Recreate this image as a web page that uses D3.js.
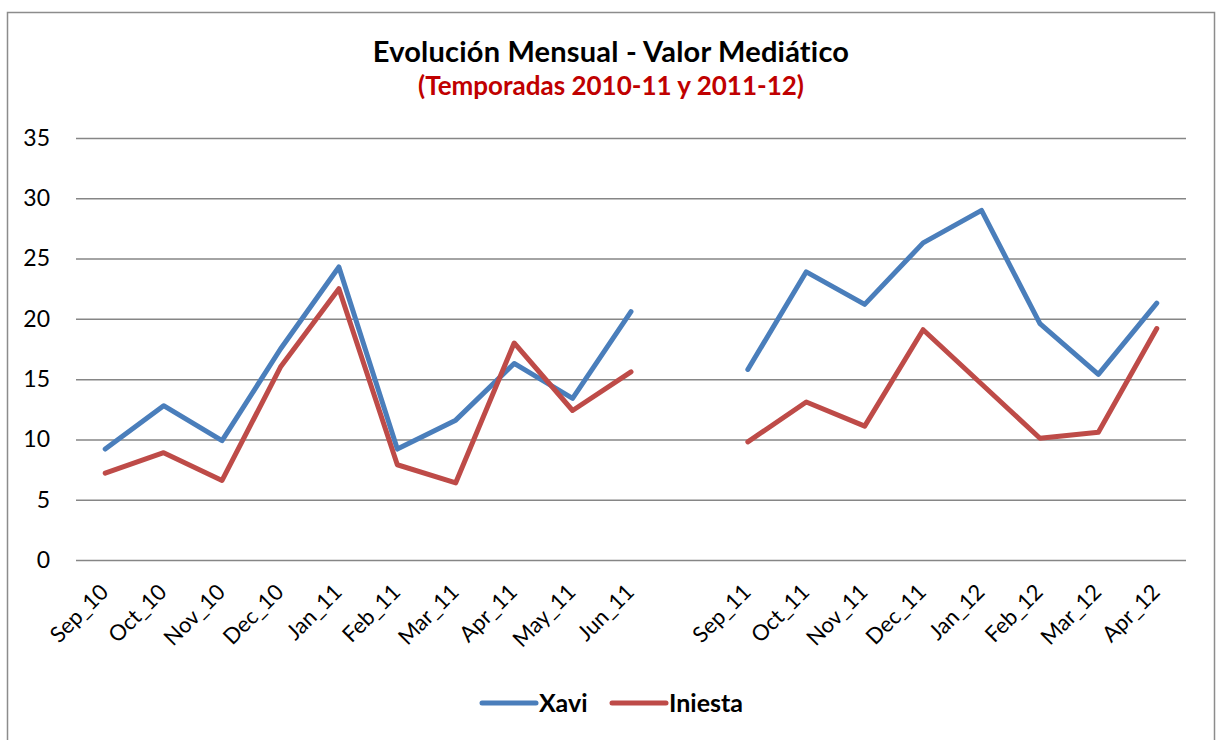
<!DOCTYPE html>
<html>
<head>
<meta charset="utf-8">
<script src="https://cdn.jsdelivr.net/npm/d3@7"></script>
<style>
  body { margin: 0; background: #fff; }
  svg { display: block; font-family: Lato, "Open Sans", sans-serif; }
</style>
</head>
<body>
<div id="chart"></div>
<script>
// months on the x axis, one empty slot between the two seasons
const months = ['Sep_10', 'Oct_10', 'Nov_10', 'Dec_10', 'Jan_11', 'Feb_11', 'Mar_11', 'Apr_11', 'May_11', 'Jun_11',
    '', 'Sep_11', 'Oct_11', 'Nov_11', 'Dec_11', 'Jan_12', 'Feb_12', 'Mar_12', 'Apr_12'];
const xavi = [9.2, 12.8, 9.9, 17.5, 24.3, 9.2, 11.6, 16.3, 13.4, 20.6,
    null, 15.8, 23.9, 21.2, 26.3, 29.0, 19.6, 15.4, 21.3];
const iniesta = [7.2, 8.9, 6.6, 16.0, 22.5, 7.9, 6.4, 18.0, 12.4, 15.6,
    null, 9.8, 13.1, 11.1, 19.1, 14.6, 10.1, 10.6, 19.2];
const yTicks = [0, 5, 10, 15, 20, 25, 30, 35];

const series = [
    { name: 'Xavi', values: xavi, color: '#4A7EBB' },
    { name: 'Iniesta', values: iniesta, color: '#BE4B48' }
];

const width = 1217, height = 740;
const plot = { left: 76, right: 1186, top: 138, bottom: 560 };

const svg = d3.select('#chart').append('svg')
    .attr('width', width)
    .attr('height', height);

// chart frame
svg.append('rect')
    .attr('x', 7.5).attr('y', 12.5)
    .attr('width', 1207).attr('height', 740)
    .attr('fill', 'none')
    .attr('stroke', '#8c8c8c')
    .attr('stroke-width', 1.5);

svg.append('text')
    .attr('x', 611).attr('y', 62)
    .attr('text-anchor', 'middle')
    .style('font-size', '29px')
    .style('font-weight', 'bold')
    .style('letter-spacing', '0.2px')
    .text('Evolución Mensual - Valor Mediático');

svg.append('text')
    .attr('x', 611).attr('y', 95)
    .attr('text-anchor', 'middle')
    .style('font-size', '26px')
    .style('font-weight', 'bold')
    .style('fill', '#C00000')
    .text('(Temporadas 2010-11 y 2011-12)');

const x = d3.scalePoint()
    .domain(d3.range(months.length))
    .range([plot.left, plot.right])
    .padding(0.5);

const y = d3.scaleLinear()
    .domain([0, 35])
    .range([plot.bottom, plot.top]);

// gridlines + y labels
const yAxis = svg.append('g')
    .attr('transform', `translate(${plot.left},0)`)
    .call(d3.axisLeft(y).tickValues(yTicks).tickSize(-(plot.right - plot.left)).tickPadding(26));
yAxis.select('.domain').remove();
yAxis.selectAll('.tick line')
    .attr('stroke', '#868686')
    .attr('stroke-width', 1.5);
yAxis.selectAll('.tick text')
    .attr('fill', '#000')
    .style('font-size', '23px')
    .style('font-family', 'Lato, sans-serif');

// rotated month labels
svg.append('g').selectAll('text')
    .data(months)
    .enter().append('text')
    .attr('transform', (d, i) => `translate(${x(i) - 1},${plot.bottom + 28}) rotate(-45)`)
    .attr('text-anchor', 'end')
    .attr('dy', '0.35em')
    .style('font-size', '22px')
    .text(d => d);

const line = d3.line()
    .defined(d => d != null)
    .x((d, i) => x(i))
    .y(d => y(d));

svg.append('g').selectAll('path')
    .data(series)
    .enter().append('path')
    .attr('d', d => line(d.values))
    .attr('fill', 'none')
    .attr('stroke', d => d.color)
    .attr('stroke-width', 5)
    .attr('stroke-linejoin', 'round')
    .attr('stroke-linecap', 'round');

// legend
const legendX = [482, 612];
const legend = svg.append('g').selectAll('g')
    .data(series)
    .enter().append('g')
    .attr('transform', (d, i) => `translate(${legendX[i]},703)`);
legend.append('line')
    .attr('x1', 0).attr('x2', 54)
    .attr('stroke', d => d.color)
    .attr('stroke-width', 5)
    .attr('stroke-linecap', 'round');
legend.append('text')
    .attr('x', 57)
    .attr('dy', '0.35em')
    .style('font-size', '25px')
    .style('font-weight', 'bold')
    .text(d => d.name);
</script>
</body>
</html>
